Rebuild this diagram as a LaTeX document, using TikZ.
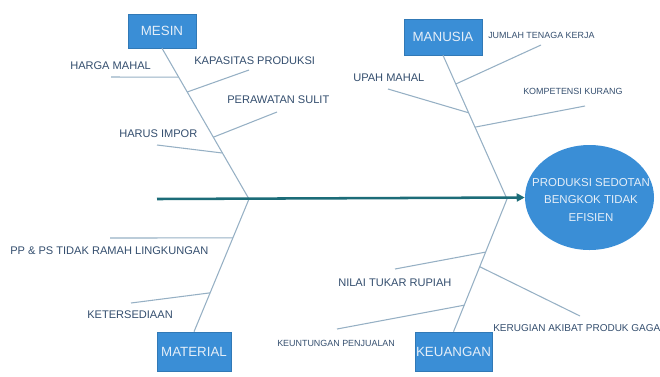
\documentclass[tikz,border=0pt]{standalone}
\usepackage{fontspec}
\setmainfont{Liberation Sans}
\usetikzlibrary{calc,arrows.meta,shapes.geometric}
\definecolor{boxblue}{RGB}{58,142,214}
\definecolor{boxtext}{RGB}{228,238,248}
\definecolor{labtext}{RGB}{52,78,110}
\definecolor{bone}{RGB}{150,176,196}
\definecolor{spine}{RGB}{28,108,120}
\tikzset{
  catbox/.style={draw=boxblue!85!black, line width=0.4pt, fill=boxblue, text=boxtext, font=\fontsize{10}{12}\selectfont, inner sep=0pt, minimum width=#1},
  lab/.style={anchor=west, inner sep=0pt, text=labtext, font=\fontsize{8.3}{10}\selectfont},
  labsmall/.style={anchor=west, inner sep=0pt, text=labtext, font=\fontsize{6.7}{8}\selectfont},
  boneline/.style={draw=bone, line width=0.8pt},
  spineline/.style={draw=spine, line width=1.9pt, -{Triangle[length=6pt,width=6pt]}}
}
\begin{document}
\begin{tikzpicture}[x=0.75pt,y=-0.75pt]
\useasboundingbox (0,0) rectangle (660,376);
% effect
\node[ellipse, fill=boxblue, minimum width=129*0.75pt, minimum height=105*0.75pt, inner sep=0pt] (eff) at (589.5,197.5) {};
\node[text=boxtext, font=\fontsize{8.6}{13}\selectfont, align=center, inner sep=0pt] (efftext) at (591,200) {PRODUKSI SEDOTAN\\BENGKOK TIDAK\\EFISIEN};
% category boxes
\node[catbox=68*0.75pt, minimum height=34*0.75pt] (mesin) at (162,31) {MESIN};
\node[catbox=78*0.75pt, minimum height=36*0.75pt] (manusia) at (443,37) {MANUSIA};
\node[catbox=74*0.75pt, minimum height=39*0.75pt] (material) at (194,351.5) {MATERIAL};
\node[catbox=77*0.75pt, minimum height=39*0.75pt] (keuangan) at (453.5,351.5) {KEUANGAN};
% spine vertices
\coordinate (vl) at (249,199);
\coordinate (vr) at (507,199);
\coordinate (tail) at (157,199);
% main bones
\draw[boneline] (mesin.south) -- (vl);
\draw[boneline] (vl) -- (material.north);
\draw[boneline] (manusia.south) -- (vr);
\draw[boneline] (vr) -- (keuangan.north);
\draw[spineline] (tail) -- (eff.west);
% junctions
\coordinate (jm1) at ($(mesin.south)!0.192!(vl)$);
\coordinate (jm2) at ($(mesin.south)!0.29!(vl)$);
\coordinate (jm3) at ($(mesin.south)!0.59!(vl)$);
\coordinate (jm4) at ($(mesin.south)!0.695!(vl)$);
\coordinate (ja1) at ($(vl)!0.293!(material.north)$);
\coordinate (ja2) at ($(vl)!0.707!(material.north)$);
\coordinate (jh1) at ($(manusia.south)!0.2!(vr)$);
\coordinate (jh2) at ($(manusia.south)!0.40!(vr)$);
\coordinate (jh3) at ($(manusia.south)!0.50!(vr)$);
\coordinate (jk1) at ($(vr)!0.40!(keuangan.north)$);
\coordinate (jk2) at ($(vr)!0.51!(keuangan.north)$);
\coordinate (jk3) at ($(vr)!0.80!(keuangan.north)$);
% free ends
\coordinate (em1) at (111,77);
\coordinate (em2) at (249,70);
\coordinate (em3) at (277,112);
\coordinate (em4) at (157,145);
\coordinate (ea1) at (110,238);
\coordinate (ea2) at (131,303);
\coordinate (eh1) at (541,45);
\coordinate (eh2) at (388,89);
\coordinate (eh3) at (585,106);
\coordinate (ek1) at (395,269);
\coordinate (ek2) at (580,316);
\coordinate (ek3) at (337,329);
% sub bones
\draw[boneline] (em1) -- (jm1);
\draw[boneline] (jm2) -- (em2);
\draw[boneline] (jm3) -- (em3);
\draw[boneline] (em4) -- (jm4);
\draw[boneline] (ea1) -- (ja1);
\draw[boneline] (ea2) -- (ja2);
\draw[boneline] (jh1) -- (eh1);
\draw[boneline] (eh2) -- (jh2);
\draw[boneline] (jh3) -- (eh3);
\draw[boneline] (ek1) -- (jk1);
\draw[boneline] (jk2) -- (ek2);
\draw[boneline] (ek3) -- (jk3);
% labels
\node[lab] (l1) at (70,66) {HARGA MAHAL};
\node[lab] (l2) at (194,61) {KAPASITAS PRODUKSI};
\node[lab] (l3) at (227,100) {PERAWATAN SULIT};
\node[lab] (l4) at (119,134) {HARUS IMPOR};
\node[lab] (l5) at (10,251) {PP \& PS TIDAK RAMAH LINGKUNGAN};
\node[lab] (l6) at (87,315) {KETERSEDIAAN};
\node[labsmall] (l7) at (488,35) {JUMLAH TENAGA KERJA};
\node[lab] (l8) at (353,78) {UPAH MAHAL};
\node[labsmall] (l9) at (523,91) {KOMPETENSI KURANG};
\node[lab] (l10) at (338,283) {NILAI TUKAR RUPIAH};
\node[lab, font=\fontsize{7.5}{9}\selectfont] (l11) at (493,328) {KERUGIAN AKIBAT PRODUK GAGAL};
\node[labsmall] (l12) at (277,343) {KEUNTUNGAN PENJUALAN};
\end{tikzpicture}
\end{document}
